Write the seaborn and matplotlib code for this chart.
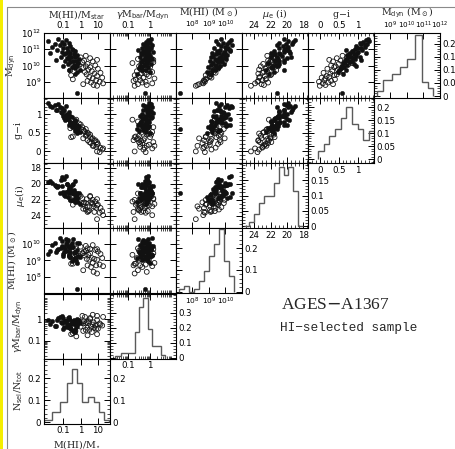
import numpy as np
import pandas as pd
import matplotlib
matplotlib.use("Agg")
import matplotlib.pyplot as plt
import seaborn as sns
from matplotlib.ticker import FixedLocator, FixedFormatter, AutoMinorLocator, LogLocator, NullFormatter
from matplotlib.lines import Line2D
from matplotlib.patches import Rectangle

# ---------------- data (log10 values for logarithmic quantities) ----------------
# filled symbols
f_log_mdyn = [11.65, 11.55, 11.50, 11.45, 11.40, 11.35, 11.30, 11.25, 11.20, 11.15, 11.10, 11.05,
              11.00, 10.95, 10.90, 10.88, 10.85, 10.80, 10.78, 10.75, 10.70, 10.68, 10.65, 10.60,
              10.55, 10.52, 10.50, 10.45, 10.42, 10.40, 10.35, 10.30, 10.28, 10.25, 10.20, 10.15,
              10.10, 10.05, 10.00, 9.95, 9.90, 9.85, 9.75, 9.70, 9.60, 9.50, 8.30, 10.95]
f_log_ratio = [-1.30, -0.85, -1.90, -1.10, -0.70, -1.50, -0.95, -1.20, -0.60, -1.65, -0.80, -1.00,
               -0.50, -1.35, -0.75, -0.30, -1.05, -0.60, -0.85, -1.80, -0.40, -0.95, -0.20, -0.70,
               -1.15, -0.55, -0.35, -0.80, -0.10, -0.65, -1.40, -0.45, -0.25, -0.90, -0.60, -0.15,
               -0.75, -0.40, -0.20, -1.00, -0.50, -0.30, -0.05, -0.65, -0.20, -0.35, -0.20, -0.45]
f_log_gamma = [0.05, -0.10, -0.05, -0.20, 0.00, -0.30, -0.15, 0.10, -0.25, -0.10, -0.35, 0.05,
               -0.20, -0.05, -0.30, -0.15, 0.15, -0.40, -0.10, -0.25, -0.05, -0.35, -0.20, 0.00,
               -0.15, -0.45, -0.10, -0.25, -0.05, 0.10, -0.30, -0.20, -0.35, -0.10, -0.40, -0.15,
               0.05, -0.25, -0.30, -0.45, -0.10, -0.50, -0.20, -0.35, 0.00, -0.60, -0.25, -0.55]
f_log_mhi = [9.70, 10.35, 9.40, 10.20, 9.85, 10.10, 9.55, 10.40, 9.75, 9.95, 10.15, 9.30,
             10.05, 9.65, 10.25, 9.50, 9.90, 9.20, 10.00, 9.60, 9.45, 9.85, 10.10, 9.25,
             9.75, 9.95, 9.15, 9.60, 10.05, 9.35, 9.50, 9.80, 9.05, 9.70, 9.55, 9.25,
             9.90, 9.10, 9.65, 9.40, 8.95, 9.55, 9.20, 9.35, 8.85, 9.15, 7.25, 10.30]
f_mu = [20.3, 19.0, 19.8, 19.2, 20.9, 20.1, 19.4, 21.2, 20.5, 19.9, 20.0, 21.0,
        20.2, 20.4, 21.6, 19.7, 20.3, 22.0, 21.0, 19.6, 20.8, 21.4, 21.8, 20.6,
        19.5, 21.2, 21.9, 20.0, 21.1, 21.2, 20.3, 20.9, 21.4, 21.5, 20.4, 22.3,
        20.9, 21.3, 21.7, 21.1, 22.0, 21.8, 22.5, 20.4, 21.6, 22.2, 21.2, 20.0]
f_gi = [1.28, 1.22, 1.30, 1.15, 1.05, 1.25, 1.10, 1.20, 0.95, 1.18, 1.00, 1.08,
        0.92, 1.12, 0.88, 0.85, 1.02, 0.80, 0.98, 1.22, 0.78, 0.90, 0.72, 0.95,
        1.05, 0.75, 0.82, 0.88, 0.68, 0.93, 1.10, 0.76, 0.66, 0.85, 0.80, 0.62,
        0.90, 0.72, 0.58, 0.95, 0.65, 0.55, 0.52, 0.70, 0.48, 0.60, 0.59, 0.70]

# open symbols
o_log_mdyn = [10.60, 10.50, 10.45, 10.40, 10.30, 10.25, 10.20, 10.10, 10.05, 10.00, 9.95, 9.90,
              9.85, 9.80, 9.75, 9.70, 9.65, 9.60, 9.55, 9.50, 9.45, 9.40, 9.35, 9.30,
              9.25, 9.20, 9.15, 9.10, 9.05, 9.00, 8.95, 8.90, 8.85, 8.80, 8.75, 10.15, 10.35]
o_log_ratio = [0.30, 0.00, 0.55, -0.30, 0.20, 0.70, 0.10, 0.40, -0.10, 0.85, 0.30, 0.55,
               0.15, 1.00, 0.45, -0.60, 0.65, 0.25, 1.15, 0.80, 0.35, -0.55, 0.95, 0.50,
               1.25, 0.70, -0.45, 0.90, 0.40, 1.10, 0.60, 1.30, 0.15, 0.75, 0.95, -0.25, 0.95]
o_log_gamma = [-0.20, -0.35, 0.05, -0.55, -0.10, -0.25, 0.15, -0.40, -0.15, -0.30, -0.50, 0.00,
               -0.20, -0.45, -0.10, -0.35, -0.60, 0.10, -0.25, -0.40, -0.15, -0.70, -0.05, -0.50,
               -0.30, 0.20, -0.65, -0.45, -0.75, -0.20, -0.35, 0.10, -0.55, -0.15, -0.70, -0.80, 0.15]
o_log_mhi = [9.90, 9.85, 9.70, 9.75, 9.55, 9.95, 9.45, 9.75, 9.30, 9.65, 9.60, 9.45,
             9.45, 9.55, 9.35, 9.20, 9.15, 9.30, 9.40, 9.10, 9.10, 8.80, 9.05, 9.05,
             9.15, 8.85, 8.80, 8.70, 8.70, 8.75, 8.60, 8.65, 8.40, 8.30, 8.20, 9.35, 9.70]
o_mu = [22.4, 21.5, 21.6, 21.2, 22.3, 22.0, 21.8, 22.9, 21.4, 22.2, 23.2, 21.5,
        22.5, 22.6, 23.4, 21.3, 22.4, 22.8, 23.0, 23.5, 21.9, 22.0, 22.7, 23.3,
        23.4, 22.5, 22.6, 23.0, 23.5, 23.6, 22.3, 23.9, 23.1, 22.8, 24.4, 22.2, 21.9]
o_gi = [0.60, 0.72, 0.45, 0.80, 0.55, 0.35, 0.65, 0.50, 0.75, 0.30, 0.42, 0.38,
        0.58, 0.20, 0.48, 0.62, 0.33, 0.52, 0.10, 0.28, 0.45, 0.38, 0.18, 0.25,
        0.05, 0.15, 0.40, 0.12, 0.30, -0.02, 0.22, 0.08, 0.35, 0.15, 0.00, 0.85, 0.25]

# histograms (fraction of sample per bin)
h_mdyn_log_edges = [8.16, 8.56, 9.07, 9.58, 10.02, 10.48, 10.89, 11.29, 11.60]
h_mdyn_frac = [0.020, 0.060, 0.083, 0.110, 0.140, 0.233, 0.053, 0.030]
h_gi_edges = [-0.05, 0.10, 0.25, 0.40, 0.55, 0.70, 0.85, 1.00, 1.15, 1.30, 1.45]
h_gi_frac = [0.032, 0.058, 0.088, 0.114, 0.160, 0.200, 0.135, 0.114, 0.073, 0.110]
h_mu_edges = [18.0, 18.6, 19.2, 19.8, 20.4, 21.0, 21.6, 22.2, 22.8, 23.4, 24.0, 24.6, 25.2]
h_mu_frac = [0.0, 0.115, 0.192, 0.166, 0.192, 0.142, 0.100, 0.100, 0.076, 0.041, 0.013, 0.0]
h_mhi_log_edges = [7.2, 7.5, 7.8, 8.1, 8.4, 8.7, 9.0, 9.3, 9.6, 9.9, 10.2, 10.5]
h_mhi_frac = [0.013, 0.028, 0.0, 0.013, 0.050, 0.097, 0.166, 0.220, 0.290, 0.140, 0.070]
h_gamma_log_edges = [-1.6, -1.3, -1.0, -0.7, -0.5, -0.3, -0.1, 0.1, 0.3, 0.5, 0.7]
h_gamma_frac = [0.010, 0.030, 0.030, 0.170, 0.340, 0.400, 0.190, 0.080, 0.080, 0.020]
h_ratio_log_edges = [-2.1, -1.67, -1.18, -0.78, -0.49, -0.20, 0.10, 0.43, 0.78, 1.07, 1.37, 1.66]
h_ratio_frac = [0.010, 0.047, 0.092, 0.180, 0.243, 0.180, 0.092, 0.114, 0.092, 0.047, 0.010]

# ---------------- build tables ----------------
def make_df(lm, lr, lg, lh, mu, gi):
    return pd.DataFrame({
        "mdyn": 10 ** np.array(lm), "ratio": 10 ** np.array(lr), "gamma": 10 ** np.array(lg),
        "mhi": 10 ** np.array(lh), "mu": np.array(mu), "gi": np.array(gi)})

df_f = make_df(f_log_mdyn, f_log_ratio, f_log_gamma, f_log_mhi, f_mu, f_gi)
df_o = make_df(o_log_mdyn, o_log_ratio, o_log_gamma, o_log_mhi, o_mu, o_gi)

hists = {
    "mdyn": (10 ** np.array(h_mdyn_log_edges), h_mdyn_frac, (-0.0075, 0.24), [0, 0.05, 0.1, 0.15, 0.2], ["0", "0.05", "0.1", "0.15", "0.2"]),
    "gi": (np.array(h_gi_edges), h_gi_frac, (-0.015, 0.235), [0, 0.05, 0.1, 0.15, 0.2], ["0", "0.05", "0.1", "0.15", "0.2"]),
    "mu": (np.array(h_mu_edges), h_mu_frac, (-0.005, 0.205), [0, 0.05, 0.1, 0.15], ["0", "0.05", "0.1", "0.15"]),
    "mhi": (10 ** np.array(h_mhi_log_edges), h_mhi_frac, (-0.006, 0.293), [0, 0.1, 0.2], ["0", "0.1", "0.2"]),
    "gamma": (10 ** np.array(h_gamma_log_edges), h_gamma_frac, (-0.005, 0.43), [0, 0.1, 0.2, 0.3], ["0", "0.1", "0.2", "0.3"]),
    "ratio": (10 ** np.array(h_ratio_log_edges), h_ratio_frac, (-0.005, 0.29), [0, 0.1, 0.2], ["0", "0.1", "0.2"]),
}

specs = {
    "ratio": dict(scale="log", lim=(10 ** -2.12, 10 ** 1.7), ticks=[0.1, 1, 10], labels=["0.1", "1", "10"],
                  title=r"M(HI)/M$_{\rm star}$"),
    "gamma": dict(scale="log", lim=(10 ** -1.82, 10 ** 1.18), ticks=[0.1, 1], labels=["0.1", "1"],
                  title=r"$\gamma$M$_{\rm bar}$/M$_{\rm dyn}$"),
    "mhi": dict(scale="log", lim=(1e7, 1e11), ticks=[1e8, 1e9, 1e10],
                labels=[r"$10^{8}$", r"$10^{9}$", r"$10^{10}$"], title=r"M(HI) (M$_\odot$)", fs=5.4),
    "mu": dict(scale="linear", lim=(25.5, 17.4), ticks=[24, 22, 20, 18], labels=["24", "22", "20", "18"],
               title=r"$\mu_{\rm e}$ (i)", minor=4),
    "gi": dict(scale="linear", lim=(-0.31, 1.43), ticks=[0, 0.5, 1], labels=["0", "0.5", "1"],
               title="g$-$i", minor=5),
    "mdyn": dict(scale="log", lim=(1e8, 1e12), ticks=[1e9, 1e10, 1e11, 1e12],
                 labels=[r"$10^{9}$", r"$10^{10}$", r"$10^{11}$", r"$10^{12}$"], title=r"M$_{\rm dyn}$ (M$_\odot$)"),
}
row_titles = {"mdyn": r"M$_{\rm dyn}$", "gi": "g$-$i", "mu": r"$\mu_{\rm e}$(i)", "mhi": r"M(HI) (M$_\odot$)",
              "gamma": r"$\gamma$M$_{\rm bar}$/M$_{\rm dyn}$", "nsel": r"N$_{\rm sel}$/N$_{\rm tot}$"}

cols = ["ratio", "gamma", "mhi", "mu", "gi", "mdyn"]
rows = ["mdyn", "gi", "mu", "mhi", "gamma", "nsel"]

# ---------------- figure ----------------
sns.set_style("white")
plt.rcParams["font.family"] = ["DejaVu Sans"]
plt.rcParams["mathtext.fontset"] = "dejavusans"
plt.rcParams["axes.linewidth"] = 0.8

W, H = 456, 449
fig = plt.figure(figsize=(W / 100, H / 100), dpi=100)
fig.patch.set_facecolor("white")

col_x = [44, 110, 176, 242, 308, 374]
row_y = [33, 98, 163, 228, 293.5, 358.5]
PW, PH = 66, 65
TICK_FS = 6.2
TITLE_FS = 6.8
title_font = dict(family="DejaVu Serif", size=TITLE_FS)


def style_axis(axis, spec):
    if spec["scale"] == "log":
        axis.set_major_locator(FixedLocator(spec["ticks"]))
        axis.set_minor_locator(LogLocator(base=10, subs=np.arange(2, 10)))
    else:
        axis.set_major_locator(FixedLocator(spec["ticks"]))
        axis.set_minor_locator(AutoMinorLocator(spec.get("minor", 5)))
    axis.set_major_formatter(FixedFormatter(spec["labels"]))
    axis.set_minor_formatter(NullFormatter())


def common_ticks(ax):
    ax.tick_params(which="both", direction="in", top=True, right=True, bottom=True, left=True,
                   labelsize=TICK_FS, pad=2, colors="black")
    ax.tick_params(which="major", length=4, width=0.7)
    ax.tick_params(which="minor", length=2, width=0.5)
    ax.tick_params(labelbottom=False, labeltop=False, labelleft=False, labelright=False)


for r, rv in enumerate(rows):
    for c, cv in enumerate(cols):
        if c > 5 - r:
            continue
        ax = fig.add_axes([col_x[c] / W, 1 - (row_y[r] + PH) / H, PW / W, PH / H])
        xs = specs[cv]
        if c == 5 - r:
            # histogram of the column variable
            edges, frac, ylim, yt, ylab = hists[cv]
            ax.stairs(frac, edges, color="#5a5a5a", linewidth=1.0, baseline=0)
            ax.set_xscale(xs["scale"])
            ax.set_xlim(*xs["lim"])
            style_axis(ax.xaxis, xs)
            ax.set_ylim(*ylim)
            ax.yaxis.set_major_locator(FixedLocator(yt))
            ax.yaxis.set_major_formatter(FixedFormatter(ylab))
            ax.yaxis.set_minor_locator(AutoMinorLocator(5))
            common_ticks(ax)
            ax.tick_params(labelright=True)
            if r == 0:
                ax.tick_params(axis="x", labeltop=True, labelsize=5.2, pad=1.5)
            else:
                ax.tick_params(labelbottom=True)
            if "fs" in xs:
                ax.tick_params(axis="x", labelsize=xs["fs"])
            if c == 0:
                ax.tick_params(labelleft=True)
        else:
            ys = specs[rv]
            sns.scatterplot(data=df_o, x=cv, y=rv, ax=ax, marker="o", s=12, facecolors="none",
                            edgecolor="#151515", linewidth=0.6, legend=False)
            sns.scatterplot(data=df_f, x=cv, y=rv, ax=ax, marker="o", s=10, color="#111111",
                            edgecolor="#111111", linewidth=0.3, legend=False)
            ax.set_xscale(xs["scale"])
            ax.set_yscale(ys["scale"])
            ax.set_xlim(*xs["lim"])
            ax.set_ylim(*ys["lim"])
            style_axis(ax.xaxis, xs)
            style_axis(ax.yaxis, ys)
            common_ticks(ax)
            if r == 0:
                ax.tick_params(labeltop=True)
                if "fs" in xs:
                    ax.tick_params(axis="x", labelsize=xs["fs"])
            if c == 0:
                ax.tick_params(labelleft=True)
        ax.set_xlabel("")
        ax.set_ylabel("")
        for sp in ax.spines.values():
            sp.set_color("black")
        if r == 0:
            ax.xaxis.set_label_position("top")
            ax.set_xlabel(xs["title"], fontdict=title_font, labelpad=3)
        if c == 0:
            ax.set_ylabel(row_titles[rv], fontdict=title_font, labelpad=2)
        if r == 5:
            ax.set_xlabel(r"M(HI)/M$_{\star}$", fontdict=title_font, labelpad=2)

# annotation text
fig.text(335 / W, 1 - 305 / H, "AGES$-$A1367", family="Liberation Serif", fontsize=12.5,
         ha="center", va="center")
fig.text(349 / W, 1 - 328 / H, "HI\u2212selected sample", family=["Liberation Mono", "DejaVu Sans Mono"],
         fontsize=9.2, ha="center", va="center")

# page frame of the scan
fig.add_artist(Rectangle((0, 0), 3.5 / W, 1, transform=fig.transFigure, facecolor="#f5ee00",
                         edgecolor="none"))
fig.add_artist(Line2D([7 / W, 7 / W], [0, 1 - 6.5 / H], transform=fig.transFigure, color="#8a8a8a", lw=0.8))
fig.add_artist(Line2D([7 / W, 1], [1 - 6.5 / H, 1 - 6.5 / H], transform=fig.transFigure, color="#8a8a8a", lw=0.8))

fig.savefig("out.png", dpi=100)
